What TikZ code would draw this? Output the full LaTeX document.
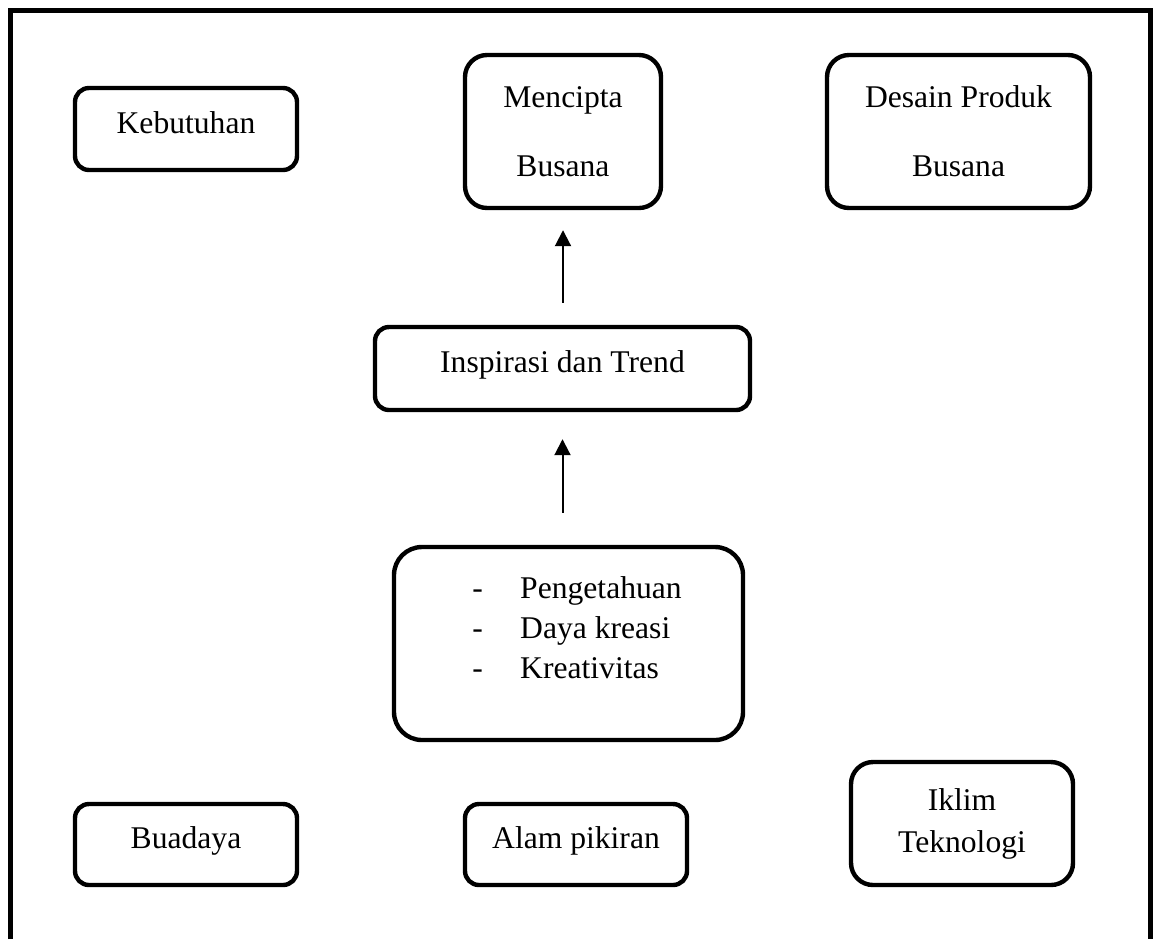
\documentclass[tikz,border=0pt]{standalone}
\usepackage{fontspec}
\setmainfont{Liberation Serif}
\usepackage{tikz}
\usetikzlibrary{arrows.meta,positioning}
\definecolor{inkblack}{RGB}{0, 0, 0}

\tikzset{
  roundbox/.style={draw=inkblack, line width=2.2pt, rounded corners=7pt, inner sep=0pt, text height=11pt, text depth=7pt},
  tallbox/.style={draw=inkblack, line width=2.2pt, rounded corners=11pt, inner sep=0pt, align=center},
  uparrow/.style={line width=1pt, -{Triangle[length=8pt,width=8pt]}}
}

\begin{document}
\begin{tikzpicture}[x=0.5pt, y=-0.5pt, font=\fontsize{15.8}{20}\selectfont]
    \useasboundingbox (0,0) rectangle (1154,939);
    % outer frame, open at the bottom
    \draw[line width=2.5pt] (10,939) -- (10,10) -- (1150,10) -- (1150,939);

    \node[roundbox, minimum width=111pt, minimum height=41pt] (kebutuhan) at (186,129) {Kebutuhan};
    \node[tallbox, minimum width=98pt, minimum height=76.5pt] (mencipta) at (563,131.5) {Mencipta\\[14.5pt]Busana};
    \node[tallbox, minimum width=131.5pt, minimum height=76.5pt] (desain) at (958.5,131.5) {Desain Produk\\[14.5pt]Busana};

    \node[roundbox, minimum width=187.5pt, minimum height=41.5pt] (inspirasi) at (562.5,368.5) {Inspirasi dan Trend};

    \node[roundbox, rounded corners=14pt, minimum width=174.5pt, minimum height=96.5pt, text height=11pt, text depth=56.5pt] (modal) at (568.5,643.5)
      {\hspace*{8.5pt}\begin{tabular}[t]{@{}p{24pt}@{}l@{}}- & Pengetahuan\\ - & Daya kreasi\\ - & Kreativitas\end{tabular}};

    \node[roundbox, minimum width=111pt, minimum height=40.5pt] (buadaya) at (186,844.5) {Buadaya};
    \node[roundbox, minimum width=111pt, minimum height=40.5pt] (alam) at (576,844.5) {Alam pikiran};
    \node[tallbox, minimum width=111pt, minimum height=61.5pt] (iklim) at (962,823.5) {Iklim\\[1pt]Teknologi};

    \draw[uparrow, shorten <=11pt, shorten >=10pt] (inspirasi.north -| mencipta.south) -- (mencipta.south);
    \draw[uparrow, shorten <=16pt, shorten >=13.5pt] (modal.north -| inspirasi.south) -- (inspirasi.south);
\end{tikzpicture}
\end{document}
